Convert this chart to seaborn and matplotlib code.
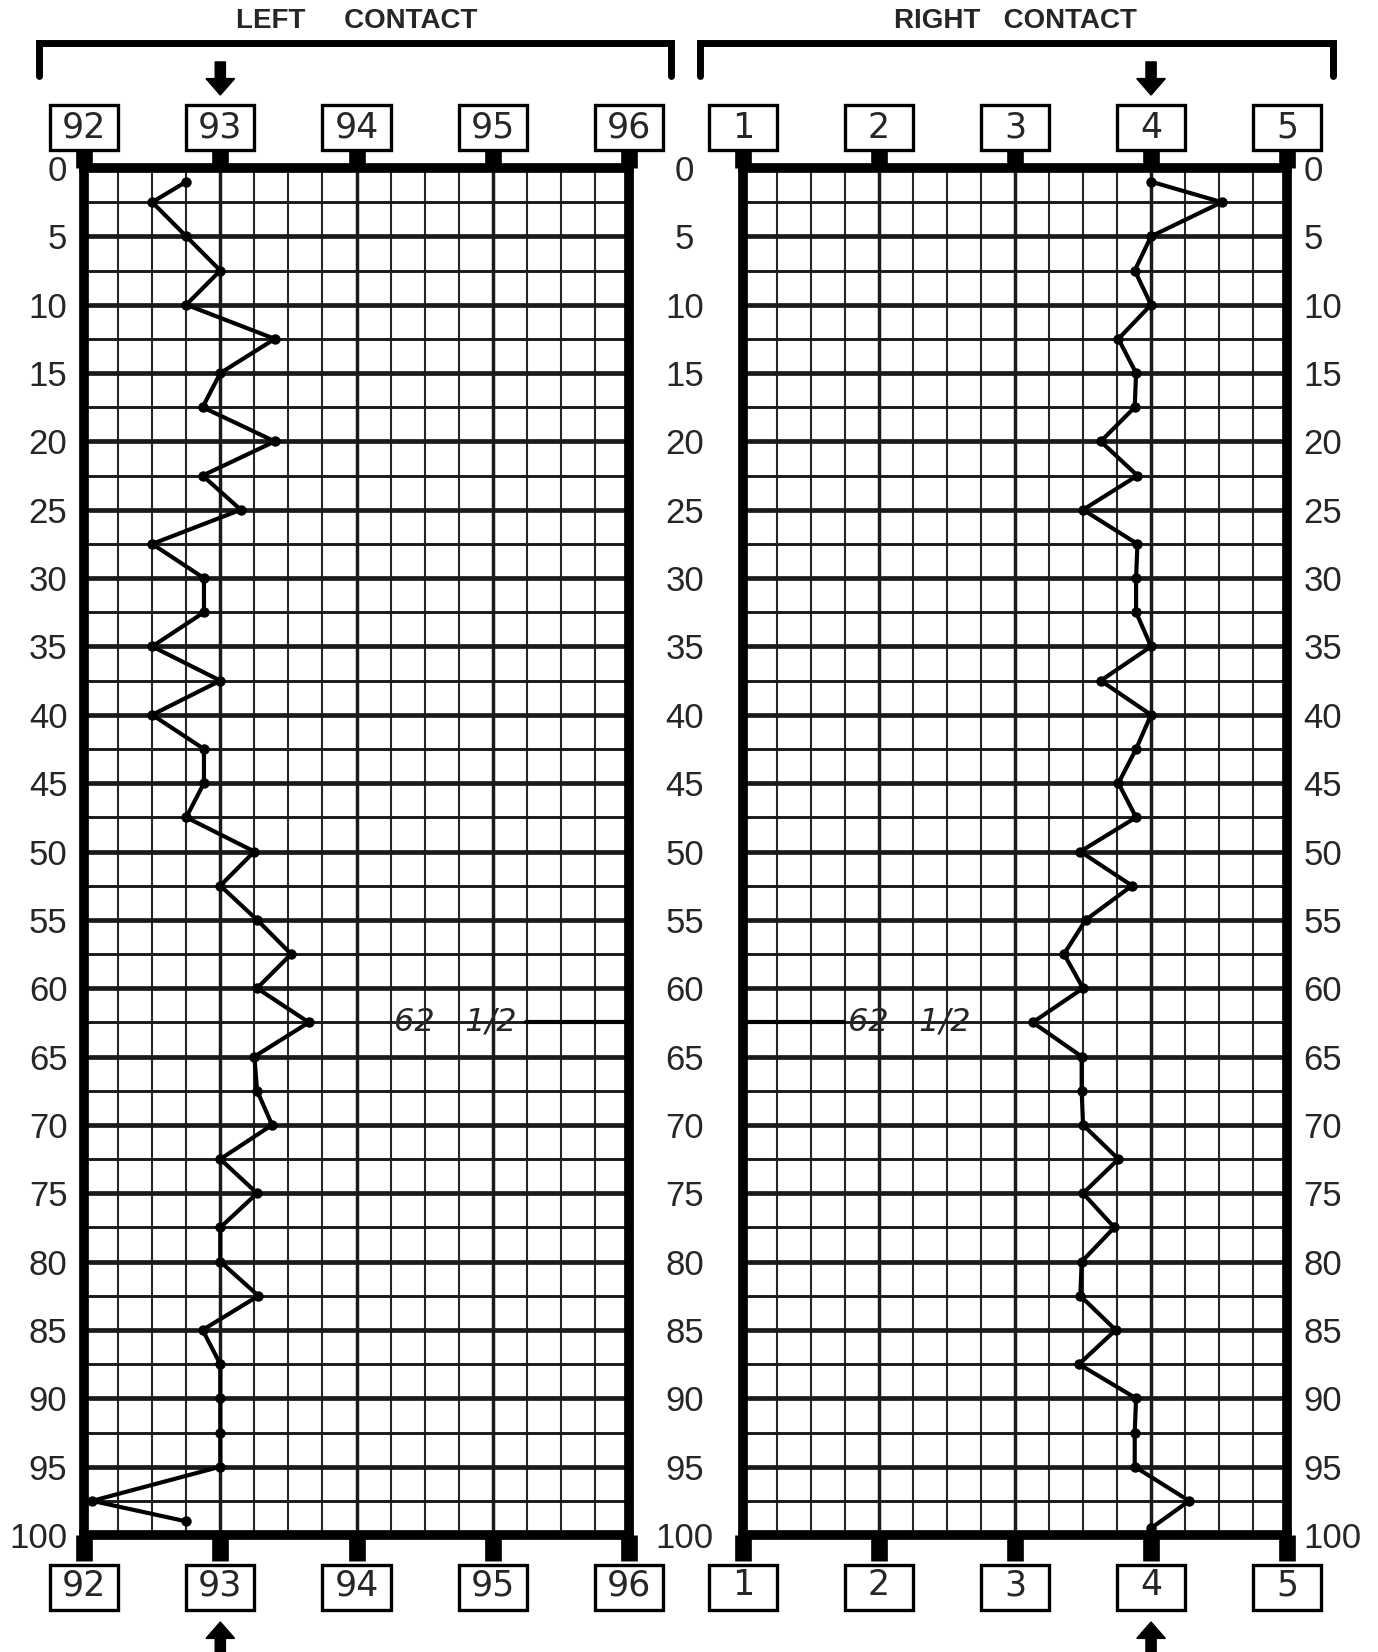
import matplotlib
matplotlib.use("Agg")
import matplotlib.pyplot as plt
import matplotlib.transforms as mtransforms
from matplotlib.patches import Rectangle, FancyArrow
from matplotlib.lines import Line2D
from matplotlib.ticker import FixedLocator, MultipleLocator
import pandas as pd
import seaborn as sns

# depth readings (0 at top, 100 at bottom)
depth_left = [1, 2.5, 5, 7.5, 10, 12.5, 15, 17.5, 20, 22.5, 25, 27.5, 30, 32.5, 35,
              37.5, 40, 42.5, 45, 47.5, 50, 52.5, 55, 57.5, 60, 62.5, 65, 67.5, 70,
              72.5, 75, 77.5, 80, 82.5, 85, 87.5, 90, 92.5, 95, 97.5, 99]
contact_left = [92.75, 92.5, 92.75, 93.0, 92.75, 93.4, 93.0, 92.87, 93.4, 92.87, 93.15,
                92.5, 92.88, 92.88, 92.5, 93.0, 92.5, 92.88, 92.88, 92.75, 93.25, 93.0,
                93.27, 93.52, 93.27, 93.65, 93.25, 93.27, 93.38, 93.0, 93.27, 93.0, 93.0,
                93.28, 92.87, 93.0, 93.0, 93.0, 93.0, 92.06, 92.75]

depth_right = [1, 2.5, 5, 7.5, 10, 12.5, 15, 17.5, 20, 22.5, 25, 27.5, 30, 32.5, 35,
               37.5, 40, 42.5, 45, 47.5, 50, 52.5, 55, 57.5, 60, 62.5, 65, 67.5, 70,
               72.5, 75, 77.5, 80, 82.5, 85, 87.5, 90, 92.5, 95, 97.5, 99.5]
contact_right = [4.0, 4.52, 4.0, 3.88, 4.0, 3.76, 3.89, 3.88, 3.63, 3.9, 3.5, 3.9, 3.89,
                 3.89, 4.0, 3.63, 4.0, 3.89, 3.76, 3.89, 3.48, 3.86, 3.52, 3.36, 3.5,
                 3.13, 3.49, 3.49, 3.5, 3.76, 3.5, 3.73, 3.49, 3.48, 3.74, 3.47, 3.89,
                 3.88, 3.88, 4.28, 4.0]

left_ticks = [92, 93, 94, 95, 96]
right_ticks = [1, 2, 3, 4, 5]
depth_ticks = [0, 5, 10, 15, 20, 25, 30, 35, 40, 45, 50, 55, 60, 65, 70, 75, 80,
               85, 90, 95, 100]
left_title = "LEFT     CONTACT"
right_title = "RIGHT   CONTACT"
left_arrow = 93
right_arrow = 4
marked_depth = 62.5
marked_label = "62   1/2"

sns.set_style("white")
plt.rcParams["font.family"] = ["Liberation Sans", "DejaVu Sans"]

fig = plt.figure(figsize=(13.78, 16.52), dpi=100)
ax_l = fig.add_axes([0.0610, 0.0708, 0.3955, 0.8275])
ax_r = fig.add_axes([0.5392, 0.0708, 0.3948, 0.8275])


def draw_panel(ax, depth, values, ticks, arrow_at, title, bracket):
    df = pd.DataFrame({"depth": depth, "contact": values})
    sns.lineplot(data=df, x="contact", y="depth", orient="y", sort=False,
                 estimator=None, color="black", lw=3.0, marker="o", markersize=7.5,
                 markeredgecolor="black", markeredgewidth=0, ax=ax)
    ax.set_xlim(ticks[0], ticks[-1])
    ax.set_ylim(100, 0)
    ax.set_xlabel("")
    ax.set_ylabel("")

    ax.xaxis.set_major_locator(FixedLocator(ticks))
    ax.xaxis.set_minor_locator(MultipleLocator(0.25))
    ax.yaxis.set_major_locator(FixedLocator(depth_ticks))
    ax.yaxis.set_minor_locator(MultipleLocator(2.5))
    ax.grid(True, which="major", axis="y", color="#1a1a1a", lw=3.4)
    ax.grid(True, which="minor", axis="y", color="#1a1a1a", lw=2.1)
    ax.grid(True, which="major", axis="x", color="#1a1a1a", lw=2.5)
    ax.grid(True, which="minor", axis="x", color="#262626", lw=1.5)
    for s in ax.spines.values():
        s.set_visible(True)
        s.set_color("black")
        s.set_linewidth(7)

    # stems + boxed labels, bottom
    ax.tick_params(axis="x", which="major", bottom=True, top=False, direction="out",
                   length=19, width=12, color="black", labelsize=25, pad=17)
    ax.tick_params(axis="x", which="minor", bottom=False, top=False)
    ax.tick_params(axis="y", which="both", left=False, right=False, length=0,
                   labelsize=25)
    plt.setp(ax.get_xticklabels(), va="center", family="DejaVu Sans")

    top = ax.secondary_xaxis("top")
    top.xaxis.set_major_locator(FixedLocator(ticks))
    top.tick_params(axis="x", top=True, direction="out", length=13, width=12,
                    color="black", labelsize=25, pad=16)
    top.spines["top"].set_visible(False)
    plt.setp(top.get_xticklabels(), va="center", family="DejaVu Sans")

    trans = mtransforms.blended_transform_factory(ax.transData, ax.transAxes)
    for t in ticks:
        for y0 in (1.0131, -0.0547):
            ax.add_patch(Rectangle((t - 0.25, y0), 0.5, 0.0330, transform=trans,
                                   fc="white", ec="black", lw=2.4, clip_on=False,
                                   zorder=-1))

    # arrows at the chosen contact
    ax.add_patch(FancyArrow(arrow_at, 1.0776, 0, -0.0242, width=0.075,
                            head_width=0.21, head_length=0.012,
                            length_includes_head=True, transform=trans,
                            color="black", clip_on=False))
    ax.add_patch(FancyArrow(arrow_at, -0.095, 0, 0.0314, width=0.075,
                            head_width=0.21, head_length=0.012,
                            length_includes_head=True, transform=trans,
                            color="black", clip_on=False))

    # bracket and title
    x0, x1 = bracket
    ax.add_line(Line2D([x0, x0, x1, x1], [1.0673, 1.0911, 1.0911, 1.0673],
                       transform=ax.transAxes, color="black", lw=5,
                       solid_joinstyle="miter", clip_on=False))
    ax.text(0.5, 1.1075, title, transform=ax.transAxes, ha="center", va="center",
            fontsize=20, fontweight="bold")


draw_panel(ax_l, depth_left, contact_left, left_ticks, left_arrow, left_title,
           (-0.0826, 1.077))
draw_panel(ax_r, depth_right, contact_right, right_ticks, right_arrow, right_title,
           (-0.079, 1.0846))

# depth labels
ax_l.tick_params(axis="y", labelleft=True, labelright=False, pad=12)
mid = ax_l.secondary_yaxis("right")
mid.yaxis.set_major_locator(FixedLocator(depth_ticks))
mid.tick_params(axis="y", right=True, length=0, labelsize=25, pad=40)
mid.spines["right"].set_visible(False)
plt.setp(mid.get_yticklabels(), ha="center")
ax_r.tick_params(axis="y", labelleft=False, labelright=True, pad=12)

# 62 1/2 marker
ax_l.axhline(marked_depth, xmin=0.811, xmax=1.0, color="black", lw=3)
ax_l.text(0.794, marked_depth, marked_label,
          transform=mtransforms.blended_transform_factory(ax_l.transAxes, ax_l.transData),
          ha="right", va="center", fontsize=23, family="DejaVu Sans", style="italic")
ax_r.axhline(marked_depth, xmin=0.0, xmax=0.186, color="black", lw=3)
ax_r.text(0.193, marked_depth, marked_label,
          transform=mtransforms.blended_transform_factory(ax_r.transAxes, ax_r.transData),
          ha="left", va="center", fontsize=23, family="DejaVu Sans", style="italic")

fig.savefig("out.png", dpi=100, facecolor="white")
